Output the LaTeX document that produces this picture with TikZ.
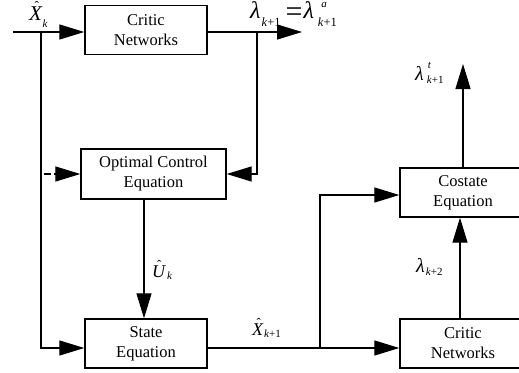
\documentclass[tikz,border=0pt]{standalone}
\usepackage{fontspec}
\setmainfont{Liberation Serif}
\newfontfamily\tnr{Liberation Serif}
\usetikzlibrary{arrows.meta}
\newcommand\Sb[2][3]{\raisebox{-#1pt}{\fontsize{11}{11}\selectfont #2}}
\newcommand\Sbb[2][3]{\raisebox{-#1pt}{\fontsize{12.5}{12.5}\selectfont #2}}
\newcommand\Sp[2][10]{\raisebox{#1pt}{\fontsize{11}{11}\selectfont\itshape #2}}
\newcommand\Lg[1]{{\fontsize{21}{21}\selectfont #1}}
\newcommand\Md[1]{{\fontsize{18}{18}\selectfont #1}}
\newcommand\Hat[3]{\makebox[0pt][l]{\kern#2\raisebox{#3}{\fontsize{13}{13}\selectfont\upshape ˆ}}#1}
\begin{document}
\begin{tikzpicture}[x=1pt,y=-1pt,font=\tnr,
  box/.style={draw,line width=1.4pt,minimum width=122pt,minimum height=49pt,inner sep=0pt,align=center,
    font=\tnr\fontsize{16.5}{20}\selectfont},
  conn/.style={line width=1.3pt},
  arr/.style={conn,-{Triangle[length=25pt,width=15pt]}},
  lab/.style={anchor=base west,inner sep=0pt,font=\tnr}]
\useasboundingbox (0,0) rectangle (519,372);
\clip (0,0) rectangle (519,372);
\node[box] (crit1) at (146,30) {Critic\\Networks};
\node[box,minimum width=145pt,minimum height=50pt] (opt) at (153.5,174) {Optimal Control\\Equation};
\node[box] (state) at (146,343.5) {State\\Equation};
\node[box,minimum width=126pt] (cost) at (463,192.5) {Costate\\Equation};
\node[box,minimum width=126pt] (crit2) at (463,343.5) {Critic\\Networks};
\coordinate (in) at (13,32);
\coordinate (j1) at (41,32);
\coordinate (c1) at (41,348);
\coordinate (j2) at (257,32);
\coordinate (out1) at (302,32);
\coordinate (d1) at (43.5,174);
\coordinate (d2) at (51,174);
\coordinate (d3) at (54,174);
\coordinate (u) at (144,250);
\coordinate (j3) at (320,348);
\coordinate (cc) at (320,195);
\coordinate (v1) at (460,250);
\coordinate (out2) at (463,64);
\draw[arr] (in) -- (crit1.west |- in);
\draw[arr] (j1) -- (c1) -- (state.west |- c1);
\draw[arr] (crit1.east |- in) -- (out1);
\draw[arr] (j2) -- (j2 |- opt.east) -- (opt.east);
\draw[conn] (d1) -- (d2);
\draw[arr] (d3) -- (opt.west);
\draw[arr] (opt.south -| u) -- (state.north -| u);
\draw[arr] (state.east |- j3) -- (crit2.west |- j3);
\draw[arr] (j3) -- (cc) -- (cost.west |- cc);
\draw[arr] (crit2.north -| v1) -- (cost.south -| v1);
\draw[arr] (cost.north -| out2) -- (out2);
\node[lab] (lxk) at (29,20) {\Lg{\itshape\Hat{X}{5.5pt}{9.5pt}}\kern0.5pt\Sb[7]{\itshape k}};
\node[lab] (llam) at (250,18) {{\fontsize{24}{24}\selectfont\itshape λ}\kern1pt\Sbb[8]{\textit{k}+1}\kern5pt\smash{\raisebox{-3.5pt}{\fontsize{30}{30}\selectfont =}}\kern1pt{\fontsize{24}{24}\selectfont\itshape λ}\kern4pt\rlap{\kern3.5pt\Sp[10]{a}}\Sbb[8]{\textit{k}+1}};
\node[lab] (luk) at (152,277) {\Md{\itshape\Hat{U}{5pt}{8pt}}\kern2pt\Sb[2]{\itshape k}};
\node[lab] (lxk1) at (252,335) {\Md{\itshape\Hat{X}{4.5pt}{8pt}}\kern1pt\Sb[2]{\textit{k}+1}};
\node[lab] (llt) at (415,80) {{\fontsize{20}{20}\selectfont\itshape λ}\kern3pt\rlap{\kern1pt\Sp[12]{t}}\Sb[3]{\textit{k}+1}};
\node[lab] (llk2) at (416,272) {{\fontsize{20}{20}\selectfont\itshape λ}\kern1pt\Sb[3]{\textit{k}+2}};
\end{tikzpicture}
\end{document}
